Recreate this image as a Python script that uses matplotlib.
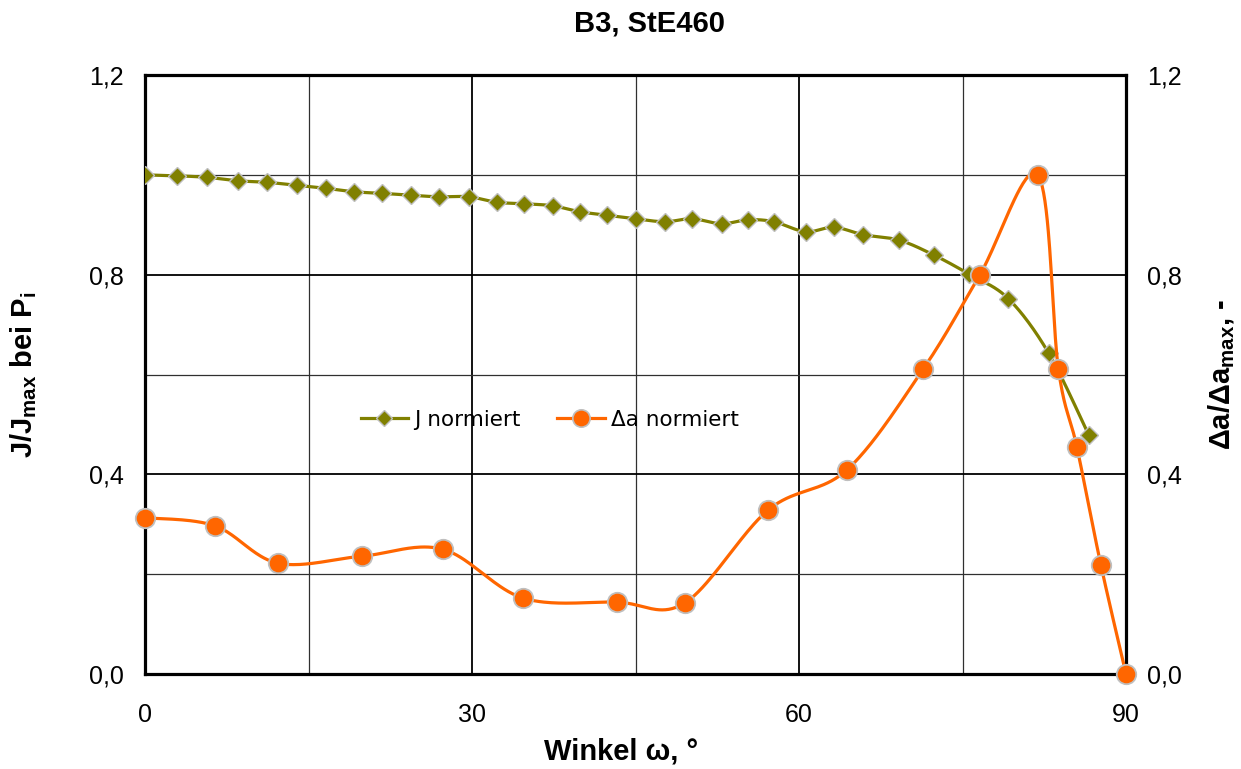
import numpy as np
import matplotlib
matplotlib.use("Agg")
import matplotlib.pyplot as plt
from matplotlib.lines import Line2D
from matplotlib.ticker import FixedLocator, FixedFormatter

# --- data -------------------------------------------------------------
winkel_j = [0.0, 2.9, 5.7, 8.5, 11.2, 13.9, 16.6, 19.2, 21.7, 24.4, 27.0,
            29.7, 32.3, 34.8, 37.4, 39.9, 42.4, 45.0, 47.7, 50.2, 52.9,
            55.3, 57.7, 60.6, 63.2, 65.9, 69.2, 72.4, 75.6, 79.2, 82.9, 86.6]
j_normiert = [1.000, 0.998, 0.995, 0.988, 0.985, 0.979, 0.973, 0.966, 0.963,
              0.959, 0.956, 0.956, 0.945, 0.942, 0.938, 0.926, 0.919, 0.912,
              0.906, 0.912, 0.902, 0.910, 0.906, 0.886, 0.895, 0.880, 0.869,
              0.839, 0.801, 0.752, 0.643, 0.478]

winkel_da = [0.0, 6.4, 12.2, 19.9, 27.3, 34.7, 43.3, 49.5, 57.2, 64.4,
             71.4, 76.6, 81.9, 83.8, 85.5, 87.7, 90.0]
da_normiert = [0.313, 0.297, 0.222, 0.236, 0.250, 0.152, 0.144, 0.142,
               0.329, 0.409, 0.611, 0.800, 1.000, 0.611, 0.454, 0.218, 0.0]

x_ticks = [0, 30, 60, 90]
x_tick_labels = ["0", "30", "60", "90"]
y_ticks = [0.0, 0.4, 0.8, 1.2]
y_tick_labels = ["0,0", "0,4", "0,8", "1,2"]

titel = "B3, StE460"
x_label = "Winkel \u03c9, \u00b0"
y_label_links = r"J/J$_{\mathbf{max}}$ bei P$_{\mathbf{i}}$"
y_label_rechts = "\u0394a/\u0394a$_{\\mathbf{max}}$, -"
legende = ["J normiert", "\u0394a normiert"]

# --- helpers ----------------------------------------------------------
def smooth_curve(x, y, n=40):
    """Catmull-Rom style smoothing (cubic Bezier through every point)."""
    p = np.column_stack([x, y]).astype(float)
    pts = []
    m = len(p)
    for i in range(m - 1):
        p0 = p[i - 1] if i > 0 else p[i]
        p1 = p[i]
        p2 = p[i + 1]
        p3 = p[i + 2] if i + 2 < m else p[i + 1]
        b1 = p1 + (p2 - p0) / 6.0
        b2 = p2 - (p3 - p1) / 6.0
        t = np.linspace(0, 1, n, endpoint=(i == m - 2))[:, None]
        seg = ((1 - t) ** 3) * p1 + 3 * ((1 - t) ** 2) * t * b1 \
            + 3 * (1 - t) * t ** 2 * b2 + t ** 3 * p2
        pts.append(seg)
    pts = np.vstack(pts)
    return pts[:, 0], pts[:, 1]

# --- styling ----------------------------------------------------------
plt.rcParams["font.family"] = ["Liberation Sans", "DejaVu Sans"]
plt.rcParams["mathtext.fontset"] = "custom"
plt.rcParams["mathtext.rm"] = "Liberation Sans"
plt.rcParams["mathtext.bf"] = "Liberation Sans:bold"
plt.rcParams["mathtext.it"] = "Liberation Sans:italic"

olive = "#808000"
orange = "#FF6600"
edge = "#BFBFBF"

fig = plt.figure(figsize=(12.41, 7.69), dpi=100)
ax = fig.add_axes([145 / 1241, 1 - 674 / 769, (1126 - 145) / 1241, (674 - 75) / 769])

ax.set_xlim(0, 90)
ax.set_ylim(0, 1.2)

# grid
ax.xaxis.set_major_locator(FixedLocator(x_ticks))
ax.xaxis.set_major_formatter(FixedFormatter(x_tick_labels))
ax.xaxis.set_minor_locator(FixedLocator([15, 45, 75]))
ax.yaxis.set_major_locator(FixedLocator(y_ticks))
ax.yaxis.set_major_formatter(FixedFormatter(y_tick_labels))
ax.yaxis.set_minor_locator(FixedLocator([0.2, 0.6, 1.0]))
ax.grid(which="major", color="black", linewidth=1.3)
ax.grid(which="minor", color="#303030", linewidth=0.9)
ax.set_axisbelow(True)

ax.tick_params(which="both", length=0)
ax.tick_params(axis="y", labelsize=18, pad=15)
ax.tick_params(axis="x", labelsize=18, pad=21)

for s in ax.spines.values():
    s.set_linewidth(2.3)
    s.set_color("black")

# J curve
xs, ys = smooth_curve(winkel_j, j_normiert)
ax.plot(xs, ys, color=olive, linewidth=2.3, zorder=3)
ax.plot(winkel_j, j_normiert, linestyle="none", marker="D", markersize=9,
        markerfacecolor=olive, markeredgecolor=edge, markeredgewidth=1.0, zorder=4)

# delta a curve
xs, ys = smooth_curve(winkel_da, da_normiert)
ax.plot(xs, ys, color=orange, linewidth=2.3, zorder=5, clip_on=False)
ax.plot(winkel_da, da_normiert, linestyle="none", marker="o", markersize=14,
        markerfacecolor=orange, markeredgecolor=edge, markeredgewidth=1.3,
        zorder=6, clip_on=False)

# right axis labels
ax2 = ax.twinx()
ax2.set_ylim(0, 1.2)
ax2.yaxis.set_major_locator(FixedLocator(y_ticks))
ax2.yaxis.set_major_formatter(FixedFormatter(y_tick_labels))
ax2.tick_params(length=0, labelsize=18, pad=15)
for s in ax2.spines.values():
    s.set_visible(False)

# legend
handles = [
    Line2D([], [], color=olive, linewidth=2.3, marker="D", markersize=8.5,
           markerfacecolor=olive, markeredgecolor=edge, markeredgewidth=1.0),
    Line2D([], [], color=orange, linewidth=2.3, marker="o", markersize=12.5,
           markerfacecolor=orange, markeredgecolor=edge, markeredgewidth=1.2),
]
leg = ax.legend(handles, legende, loc="center left", bbox_to_anchor=(0.2, 0.424),
                ncol=2, frameon=False, handlelength=2.2, handletextpad=0.3,
                columnspacing=1.7, prop={"family": "DejaVu Sans", "size": 15.5})
leg.set_zorder(10)

# texts
fig.text(649 / 1241, 1 - 23 / 769, titel, ha="center", va="center",
         fontsize=21, fontweight="bold")
fig.text(621 / 1241, 1 - 752 / 769, x_label, ha="center", va="center",
         fontsize=21, fontweight="bold")
fig.text(24 / 1241, 1 - 375 / 769, y_label_links, ha="center", va="center",
         fontsize=21, fontweight="bold", rotation=90)
fig.text(1222 / 1241, 1 - 375 / 769, y_label_rechts, ha="center", va="center",
         fontsize=21, fontweight="bold", rotation=90)

fig.savefig("out.png", dpi=100)
